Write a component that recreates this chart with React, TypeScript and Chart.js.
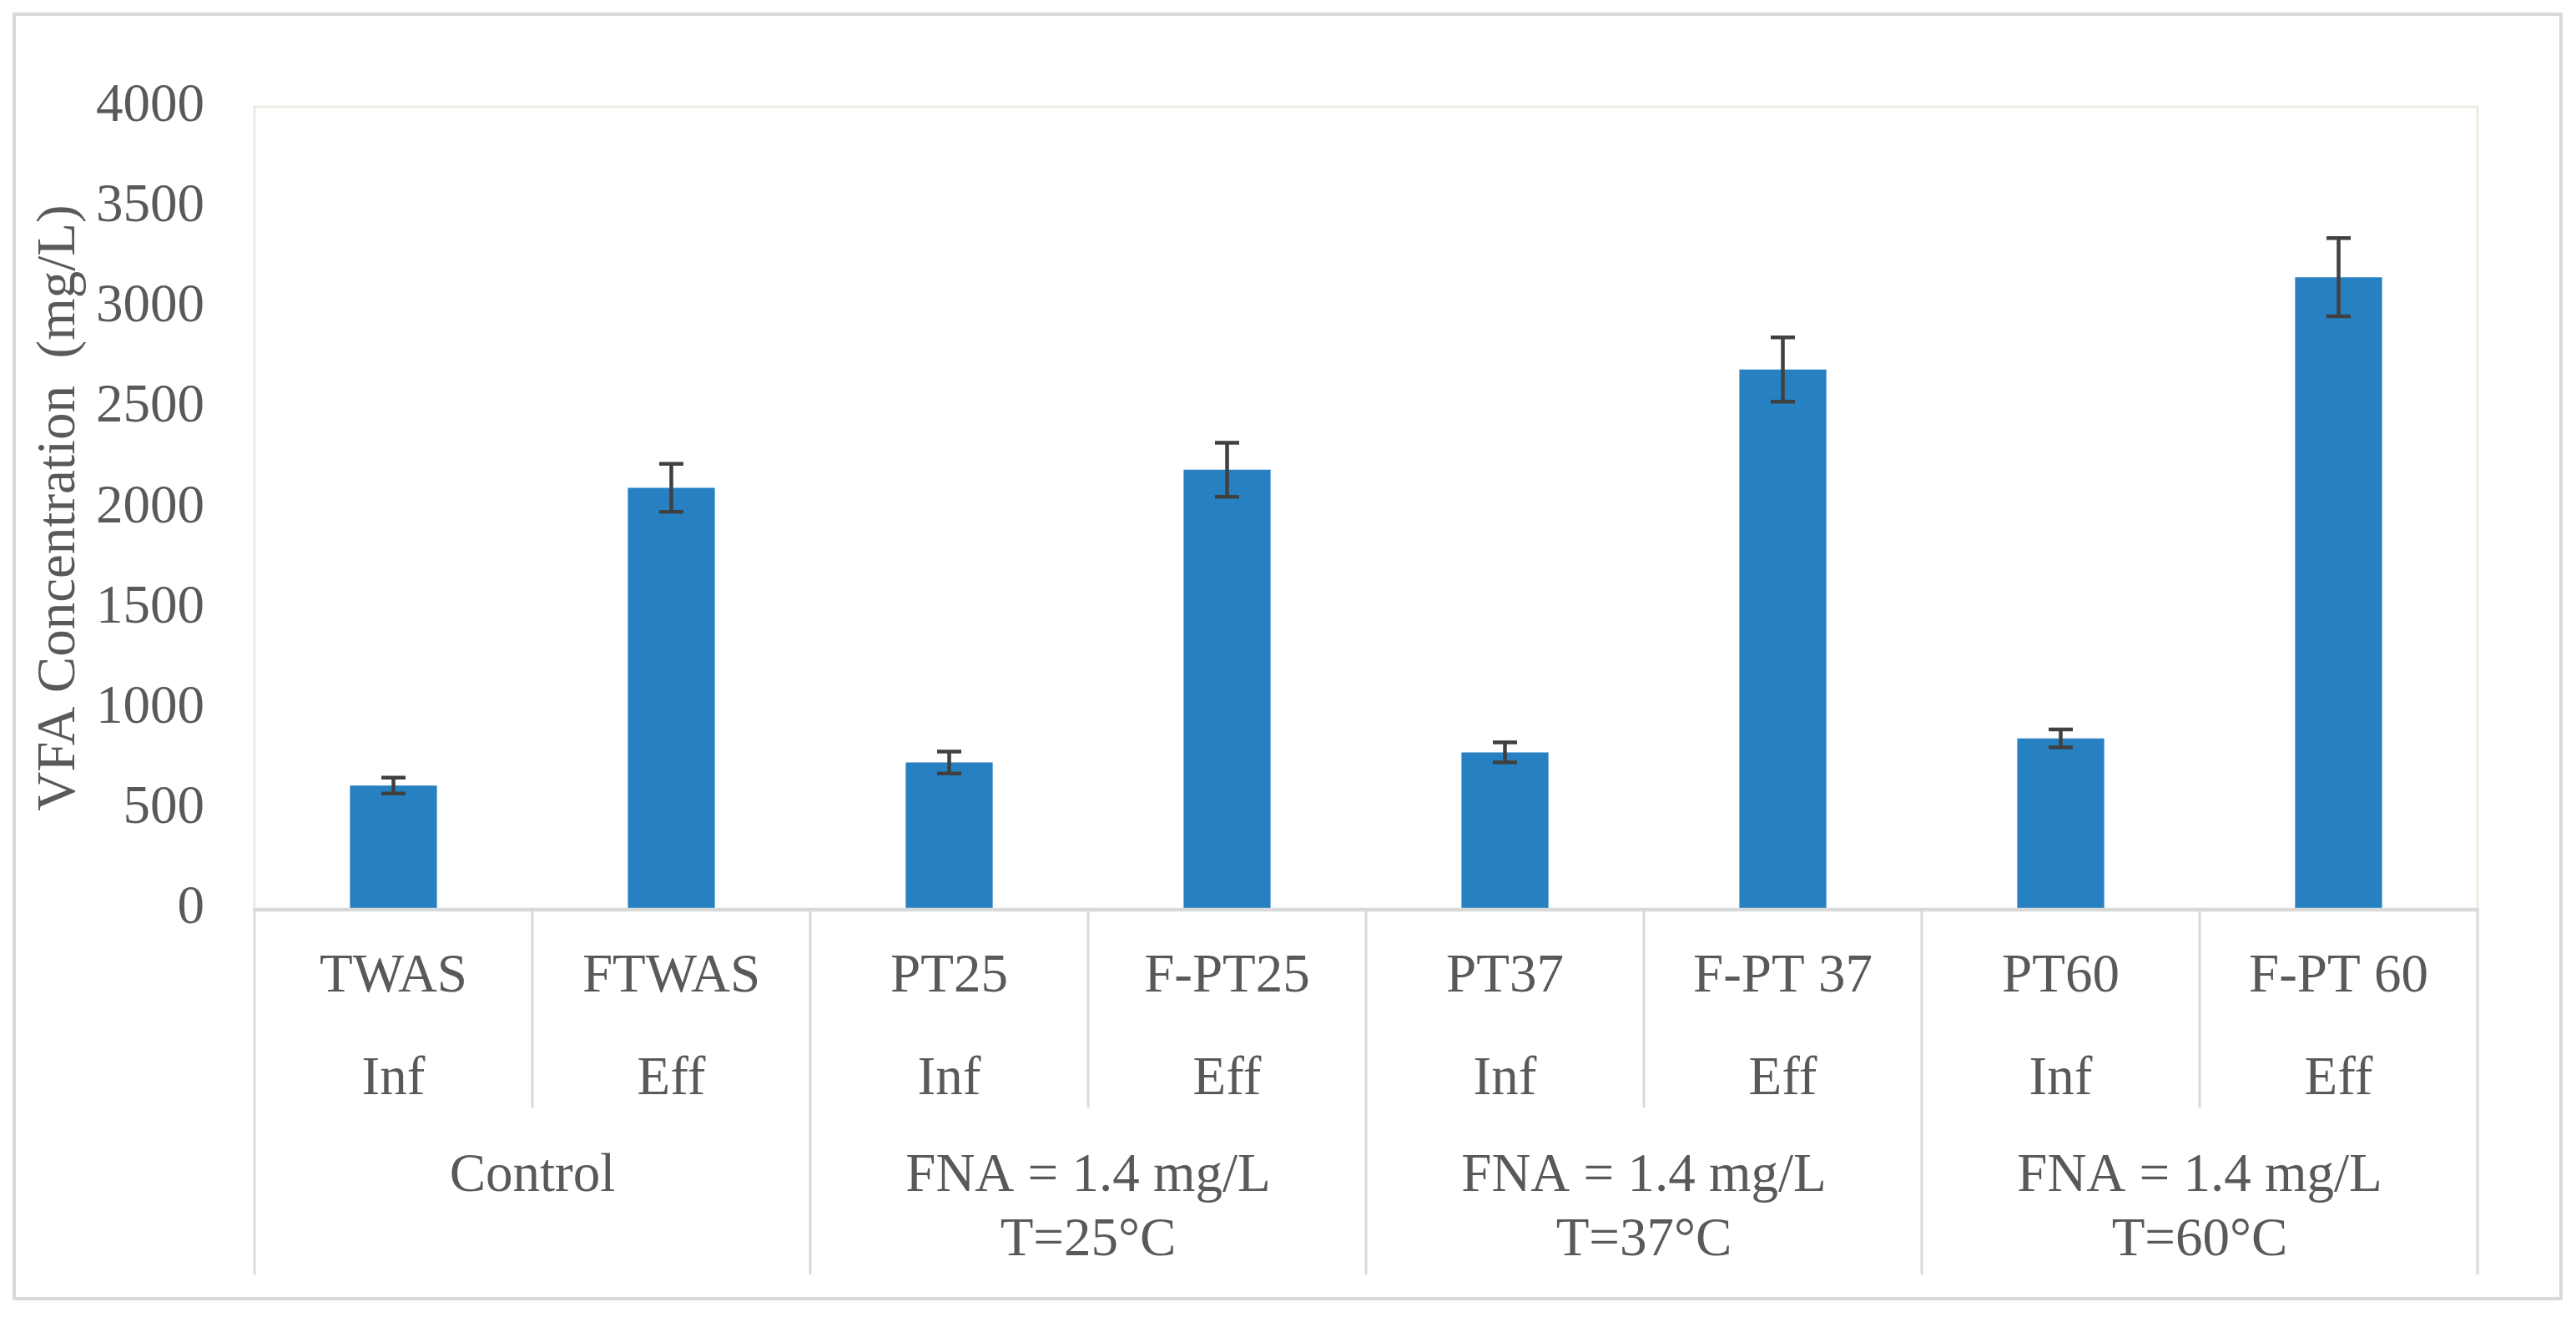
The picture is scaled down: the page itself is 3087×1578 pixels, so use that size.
import React, { useEffect, useRef } from 'react';
import { Chart, registerables } from 'chart.js';

Chart.register(...registerables);

// ---- data ----
const categories = ['TWAS', 'FTWAS', 'PT25', 'F-PT25', 'PT37', 'F-PT 37', 'PT60', 'F-PT 60'];
const streamLabels = ['Inf', 'Eff', 'Inf', 'Eff', 'Inf', 'Eff', 'Inf', 'Eff'];
const groupLabels = [
  ['Control'],
  ['FNA = 1.4 mg/L', 'T=25°C'],
  ['FNA = 1.4 mg/L', 'T=37°C'],
  ['FNA = 1.4 mg/L', 'T=60°C'],
];
const groupSizes = [2, 2, 2, 2];
const vfaValues = [615, 2100, 730, 2190, 780, 2690, 850, 3150];
const vfaErrors = [40, 120, 55, 135, 50, 160, 45, 195];
const yMin = 0;
const yMax = 4000;
const yStep = 500;
const yTitle = 'VFA Concentration  (mg/L)';

const FONT = "'Times New Roman', 'Liberation Serif', serif";
const FONT_SIZE = 65;
const TEXT = '#595959';
const LINE = '#d9d9d9';

const decorPlugin = {
  id: 'decor',
  beforeDraw(chart: any) {
    const ctx = chart.ctx;
    const { left, right, top, bottom } = chart.chartArea;
    ctx.save();
    ctx.fillStyle = '#ffffff';
    ctx.fillRect(0, 0, chart.width, chart.height);
    ctx.strokeStyle = LINE;
    ctx.lineWidth = 4;
    ctx.strokeRect(17, 17, 3069 - 17, 1556 - 17);
    ctx.strokeStyle = '#eeece1';
    ctx.lineWidth = 3;
    ctx.beginPath();
    ctx.moveTo(left, bottom);
    ctx.lineTo(left, top);
    ctx.lineTo(right, top);
    ctx.lineTo(right, bottom);
    ctx.stroke();
    ctx.restore();
  },
  afterDatasetsDraw(chart: any) {
    const ctx = chart.ctx;
    const { left, right, bottom } = chart.chartArea;
    const xs = chart.scales.x;
    const ys = chart.scales.y;
    const meta = chart.getDatasetMeta(0);
    ctx.save();
    // error bars
    ctx.strokeStyle = '#404040';
    ctx.lineWidth = 4.5;
    meta.data.forEach((bar: any, i: number) => {
      const x = bar.x;
      const hi = ys.getPixelForValue(vfaValues[i] + vfaErrors[i]);
      const lo = ys.getPixelForValue(vfaValues[i] - vfaErrors[i]);
      const cap = 14.5;
      ctx.beginPath();
      ctx.moveTo(x, hi);
      ctx.lineTo(x, lo);
      ctx.moveTo(x - cap, hi);
      ctx.lineTo(x + cap, hi);
      ctx.moveTo(x - cap, lo);
      ctx.lineTo(x + cap, lo);
      ctx.stroke();
    });

    // category axis
    const row1Bottom = 1327;
    const row2Bottom = 1527;
    ctx.strokeStyle = LINE;
    ctx.lineWidth = 3;
    const groupEdges = new Set<number>();
    let acc = 0;
    groupEdges.add(0);
    groupSizes.forEach((g) => {
      acc += g;
      groupEdges.add(acc);
    });
    for (let i = 0; i <= categories.length; i++) {
      const xb = xs.getPixelForValue(i - 0.5);
      ctx.beginPath();
      ctx.moveTo(xb, bottom);
      ctx.lineTo(xb, groupEdges.has(i) ? row2Bottom : row1Bottom);
      ctx.stroke();
    }
    ctx.lineWidth = 4.5;
    ctx.beginPath();
    ctx.moveTo(left - 2, bottom + 1);
    ctx.lineTo(right + 2, bottom + 1);
    ctx.stroke();

    ctx.fillStyle = TEXT;
    ctx.font = `${FONT_SIZE}px ${FONT}`;
    ctx.textAlign = 'center';
    ctx.textBaseline = 'middle';
    categories.forEach((c, i) => {
      const x = xs.getPixelForValue(i);
      ctx.fillText(c, x, 1171);
      ctx.fillText(streamLabels[i], x, 1294);
    });
    let start = 0;
    groupLabels.forEach((lines, gi) => {
      const a = xs.getPixelForValue(start - 0.5);
      const b = xs.getPixelForValue(start + groupSizes[gi] - 0.5);
      const cx = (a + b) / 2;
      lines.forEach((t, li) => {
        ctx.fillText(t, cx, 1410 + li * 77);
      });
      start += groupSizes[gi];
    });
    ctx.restore();
  },
};

export default function App() {
  const ref = useRef<HTMLCanvasElement | null>(null);
  useEffect(() => {
    if (!ref.current) return;
    const chart = new Chart(ref.current, {
      type: 'bar',
      data: {
        labels: categories,
        datasets: [
          {
            data: vfaValues,
            backgroundColor: '#2680c2',
            borderWidth: 0,
            barPercentage: 0.313,
            categoryPercentage: 1,
          },
        ],
      },
      options: {
        animation: false,
        responsive: true,
        maintainAspectRatio: false,
        layout: { padding: { top: 128, right: 118, bottom: 489, left: 0 } },
        plugins: { legend: { display: false }, tooltip: { enabled: false } },
        scales: {
          x: {
            ticks: { display: false },
            grid: { display: false },
            border: { display: false },
            afterFit(scale: any) {
              scale.height = 0;
            },
          },
          y: {
            min: yMin,
            max: yMax,
            ticks: {
              stepSize: yStep,
              color: TEXT,
              font: { family: FONT, size: FONT_SIZE },
              padding: 60,
              callback: (v: any) => String(v),
            },
            grid: { display: false, drawTicks: false },
            border: { display: false },
            title: {
              display: true,
              text: yTitle,
              color: TEXT,
              font: { family: FONT, size: FONT_SIZE },
              padding: { top: 33, bottom: 0 },
            },
            afterFit(scale: any) {
              scale.width = 305;
            },
          },
        },
      },
      plugins: [decorPlugin],
    });
    return () => chart.destroy();
  }, []);
  return (
    <div style={{ position: 'absolute', left: 0, top: 0, width: '3087px', height: '1578px' }}>
      <canvas ref={ref} />
    </div>
  );
}
